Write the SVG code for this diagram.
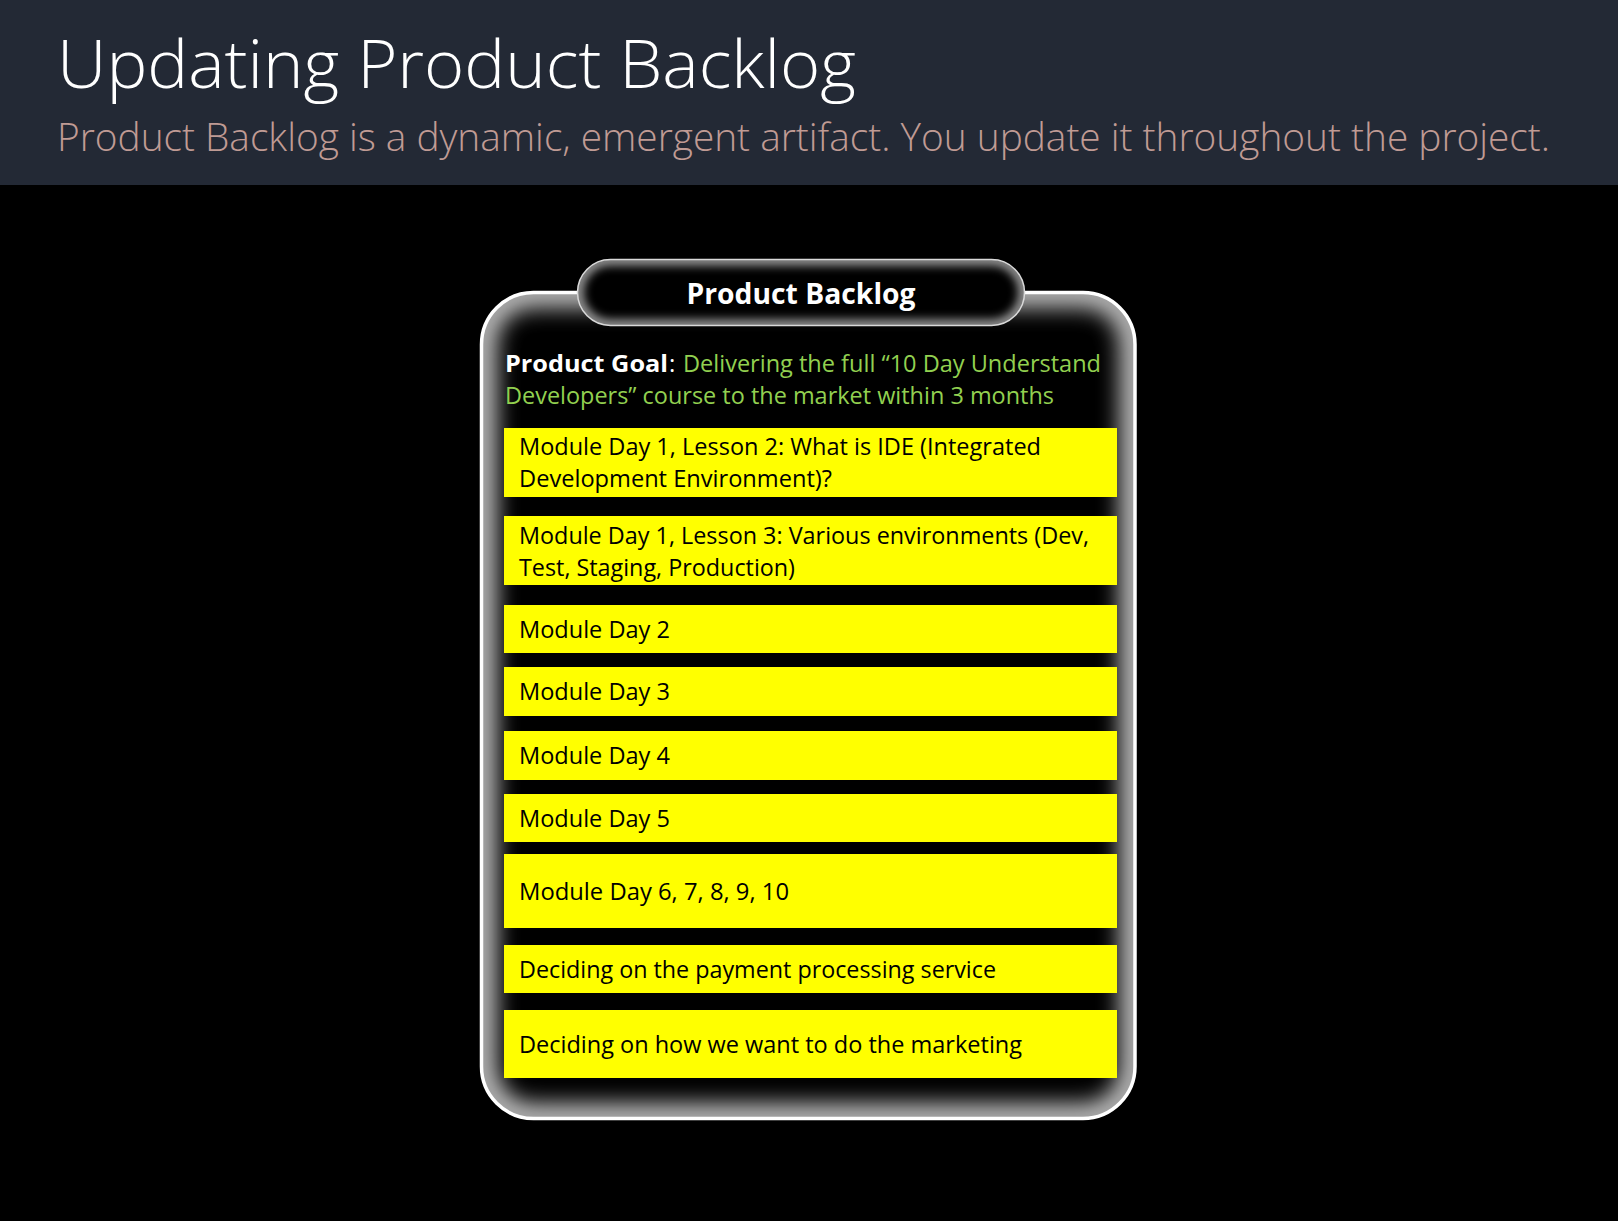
<svg xmlns="http://www.w3.org/2000/svg" width="1618" height="1221" viewBox="0 0 1618 1221">
  <style>
    .title { font-family: "Open Sans", "Liberation Sans", sans-serif; font-size: 66px; font-weight: 300; fill: #ffffff; }
    .sub { font-family: "Open Sans", "Liberation Sans", sans-serif; font-size: 38px; font-weight: 300; fill: #c09b94; }
    .tab-t { font-family: "Open Sans", "Liberation Sans", sans-serif; font-size: 29px; font-weight: 700; fill: #ffffff; }
    .goal-b { font-family: "Open Sans", "Liberation Sans", sans-serif; font-size: 24px; font-weight: 700; fill: #ffffff; }
    .goal-w { font-family: "Open Sans", "Liberation Sans", sans-serif; font-size: 24px; fill: #ffffff; }
    .goal-g { font-family: "Open Sans", "Liberation Sans", sans-serif; font-size: 24px; fill: #92d050; }
    .item { fill: #ffff00; }
    .item-t { font-family: "Open Sans", "Liberation Sans", sans-serif; font-size: 24px; fill: #000000; }
  </style>
  <defs>
    <filter id="blurCard" x="-10%" y="-10%" width="120%" height="120%">
      <feGaussianBlur stdDeviation="11"/>
    </filter>
    <filter id="blurTab" x="-10%" y="-30%" width="120%" height="160%">
      <feGaussianBlur stdDeviation="5"/>
    </filter>
    <clipPath id="cardClip">
      <rect x="481.5" y="292.5" width="653.5" height="826" rx="52"/>
    </clipPath>
    <clipPath id="tabClip">
      <rect x="577.5" y="259.5" width="447" height="66" rx="33"/>
    </clipPath>
  </defs>

  <rect x="0" y="0" width="1618" height="1221" fill="#000000"/>

  <g id="header">
    <rect x="0" y="0" width="1618" height="185" fill="#232935"/>
    <text class="title" x="57" y="88" textLength="799" lengthAdjust="spacingAndGlyphs">Updating Product Backlog</text>
    <text class="sub" x="57" y="151" textLength="1493" lengthAdjust="spacingAndGlyphs">Product Backlog is a dynamic, emergent artifact. You update it throughout the project.</text>
  </g>

  <g id="backlog-card">
    <rect x="481.5" y="292.5" width="653.5" height="826" rx="52" fill="#000000"/>
    <g clip-path="url(#cardClip)">
      <rect x="481.5" y="292.5" width="653.5" height="826" rx="52" fill="none" stroke="#ffffff" stroke-width="30" opacity="0.75" filter="url(#blurCard)"/>
    </g>
    <rect x="481.5" y="292.5" width="653.5" height="826" rx="52" fill="none" stroke="#ffffff" stroke-width="3.5"/>
  </g>

  <g id="tab">
    <rect x="577.5" y="259.5" width="447" height="66" rx="33" fill="#000000"/>
    <g clip-path="url(#tabClip)">
      <rect x="577.5" y="259.5" width="447" height="66" rx="33" fill="none" stroke="#ffffff" stroke-width="12" opacity="0.6" filter="url(#blurTab)"/>
    </g>
    <rect x="577.5" y="259.5" width="447" height="66" rx="33" fill="none" stroke="#d9d9d9" stroke-width="1.5"/>
    <text class="tab-t" x="801" y="304" text-anchor="middle" textLength="229" lengthAdjust="spacingAndGlyphs">Product Backlog</text>
  </g>

  <g id="product-goal">
    <text class="goal-b" x="505" y="372" textLength="163" lengthAdjust="spacingAndGlyphs">Product Goal</text>
    <text class="goal-w" x="669" y="372">:</text>
    <text class="goal-g" x="683" y="372" textLength="418" lengthAdjust="spacingAndGlyphs">Delivering the full “10 Day Understand</text>
    <text class="goal-g" x="505" y="404" textLength="549" lengthAdjust="spacingAndGlyphs">Developers” course to the market within 3 months</text>
  </g>

  <g id="item-1">
    <rect class="item" x="504" y="428" width="613" height="69"/>
    <text class="item-t" x="519" y="455" textLength="522" lengthAdjust="spacingAndGlyphs">Module Day 1, Lesson 2: What is IDE (Integrated</text>
    <text class="item-t" x="519" y="487" textLength="313" lengthAdjust="spacingAndGlyphs">Development Environment)?</text>
  </g>
  <g id="item-2">
    <rect class="item" x="504" y="516" width="613" height="69"/>
    <text class="item-t" x="519" y="544" textLength="570" lengthAdjust="spacingAndGlyphs">Module Day 1, Lesson 3: Various environments (Dev,</text>
    <text class="item-t" x="519" y="576" textLength="276" lengthAdjust="spacingAndGlyphs">Test, Staging, Production)</text>
  </g>
  <g id="item-3">
    <rect class="item" x="504" y="605" width="613" height="48"/>
    <text class="item-t" x="519" y="638" textLength="151" lengthAdjust="spacingAndGlyphs">Module Day 2</text>
  </g>
  <g id="item-4">
    <rect class="item" x="504" y="667" width="613" height="49"/>
    <text class="item-t" x="519" y="700" textLength="151" lengthAdjust="spacingAndGlyphs">Module Day 3</text>
  </g>
  <g id="item-5">
    <rect class="item" x="504" y="731" width="613" height="49"/>
    <text class="item-t" x="519" y="764" textLength="151" lengthAdjust="spacingAndGlyphs">Module Day 4</text>
  </g>
  <g id="item-6">
    <rect class="item" x="504" y="794" width="613" height="48"/>
    <text class="item-t" x="519" y="827" textLength="151" lengthAdjust="spacingAndGlyphs">Module Day 5</text>
  </g>
  <g id="item-7">
    <rect class="item" x="504" y="854" width="613" height="74"/>
    <text class="item-t" x="519" y="900" textLength="270" lengthAdjust="spacingAndGlyphs">Module Day 6, 7, 8, 9, 10</text>
  </g>
  <g id="item-8">
    <rect class="item" x="504" y="945" width="613" height="48"/>
    <text class="item-t" x="519" y="978" textLength="477" lengthAdjust="spacingAndGlyphs">Deciding on the payment processing service</text>
  </g>
  <g id="item-9">
    <rect class="item" x="504" y="1010" width="613" height="68"/>
    <text class="item-t" x="519" y="1053" textLength="503" lengthAdjust="spacingAndGlyphs">Deciding on how we want to do the marketing</text>
  </g>

  <g id="connectors"/>
</svg>
